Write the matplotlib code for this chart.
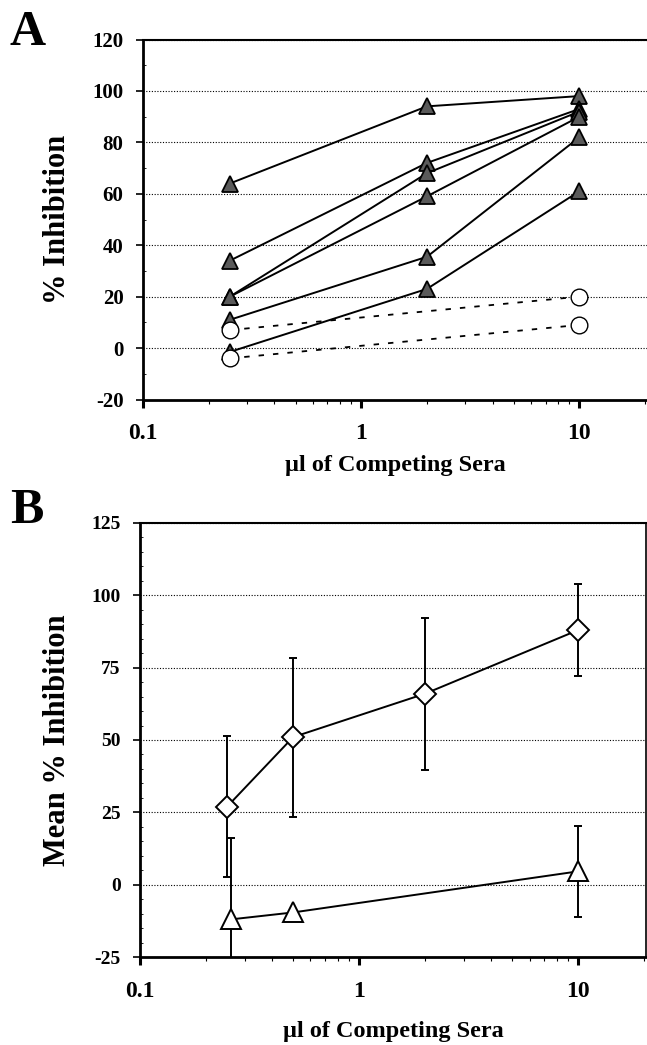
import matplotlib
matplotlib.use("Agg")
import matplotlib.pyplot as plt
from matplotlib.ticker import FixedLocator, NullFormatter, MultipleLocator

plt.rcParams["font.family"] = ["Liberation Serif", "DejaVu Serif"]
plt.rcParams["font.weight"] = "bold"
plt.rcParams["axes.unicode_minus"] = False

# panel A: individual sera
dose_a = [0.25, 2, 10]
immune_sera = [
    [64, 94, 98],
    [34, 72, 93],
    [20, 68, 92],
    [20, 59, 90],
    [11, 35.5, 82],
    [-1.5, 23, 61],
]
control_sera = [
    [7, 20],
    [-4, 9],
]
dose_ctrl = [0.25, 10]

# panel B: means with error bars
dose_diamond = [0.25, 0.5, 2, 10]
mean_diamond = [27, 51, 66, 88]
err_diamond = [24.5, 27.5, 26.3, 15.8]
dose_tri = [0.26, 0.5, 10]
mean_tri = [-12, -9.6, 4.6]
err_tri = [28.3, 0, 15.7]

W, H = 647, 1045
fig = plt.figure(figsize=(W / 100, H / 100), dpi=100)


def style_axes(ax, ylim, ystep, yminor, ytick_size, xlabelpad):
    ax.set_xscale("log")
    ax.set_xlim(0.1, 20.4)
    ax.set_ylim(*ylim)
    ax.set_xticks([0.1, 1, 10])
    ax.set_xticklabels(["0.1", "1", "10"], fontsize=17, fontweight="bold")
    ax.xaxis.set_minor_locator(FixedLocator(
        [k * 0.1 for k in range(2, 10)] + list(range(2, 10)) + [20]))
    ax.xaxis.set_minor_formatter(NullFormatter())
    ax.yaxis.set_major_locator(MultipleLocator(ystep))
    ax.yaxis.set_minor_locator(MultipleLocator(yminor))
    for lab in ax.get_yticklabels():
        lab.set_fontsize(ytick_size)
        lab.set_fontweight("bold")
    ax.tick_params(axis="x", which="major", length=6, width=2.2, direction="out", pad=11)
    ax.tick_params(axis="x", which="minor", length=3, width=0.8, direction="out")
    ax.tick_params(axis="y", which="major", length=5, width=1.2, direction="out", pad=9)
    ax.tick_params(axis="y", which="minor", length=2, width=0.6, direction="in")
    ax.grid(axis="y", which="major", linestyle=(0, (1, 1.5)), color="black", linewidth=0.8)
    for s in ["left", "bottom"]:
        ax.spines[s].set_linewidth(2)
    ax.spines["top"].set_linewidth(1.5)
    ax.spines["right"].set_linewidth(1.2)
    ax.set_xlabel("\u00b5l of Competing Sera", fontsize=17.5, fontweight="bold",
                  labelpad=xlabelpad)


# ---- panel A
axA = fig.add_axes([143 / W, 1 - 399.5 / H, (647 - 143) / W, (399.5 - 39.5) / H])
for vals in immune_sera:
    axA.plot(dose_a, vals, color="black", linewidth=1.4, marker="^", markersize=12,
             markerfacecolor="#5a5a5a", markeredgecolor="black", markeredgewidth=1.3, zorder=3)
for vals in control_sera:
    axA.plot(dose_ctrl, vals, color="black", linewidth=1.3, linestyle=(0, (3, 5)),
             marker="o", markersize=12, markerfacecolor="white",
             markeredgecolor="black", markeredgewidth=1.0, zorder=3)
style_axes(axA, (-20, 120), 20, 10, 15, 8)
axA.set_ylabel("% Inhibition", fontsize=22, fontweight="bold")
axA.yaxis.set_label_coords((72 - 143) / 504, 0.5)
axA.spines["right"].set_visible(False)

# ---- panel B
axB = fig.add_axes([140 / W, 1 - 957 / H, (646 - 140) / W, (957 - 523) / H])
axB.errorbar(dose_diamond, mean_diamond, yerr=err_diamond, color="black", linewidth=1.4,
             marker="D", markersize=11, markerfacecolor="white", markeredgecolor="black",
             markeredgewidth=1.4, elinewidth=1.4, capsize=3, capthick=1.4, zorder=3)
axB.errorbar(dose_tri, mean_tri, yerr=err_tri, color="black", linewidth=1.4,
             marker="^", markersize=14, markerfacecolor="white", markeredgecolor="black",
             markeredgewidth=1.4, elinewidth=1.4, capsize=3, capthick=1.4, zorder=3)
style_axes(axB, (-25, 125), 25, 5, 14, 14)
axB.set_ylabel("Mean % Inhibition", fontsize=22, fontweight="bold")
axB.yaxis.set_label_coords((72 - 140) / 506, 0.5)

fig.text(10 / W, 1 - 45 / H, "A", fontsize=36, fontweight="bold", ha="left", va="baseline")
fig.text(10 / W, 1 - 523 / H, "B", fontsize=36, fontweight="bold", ha="left", va="baseline")

fig.savefig("out.png", dpi=100)
